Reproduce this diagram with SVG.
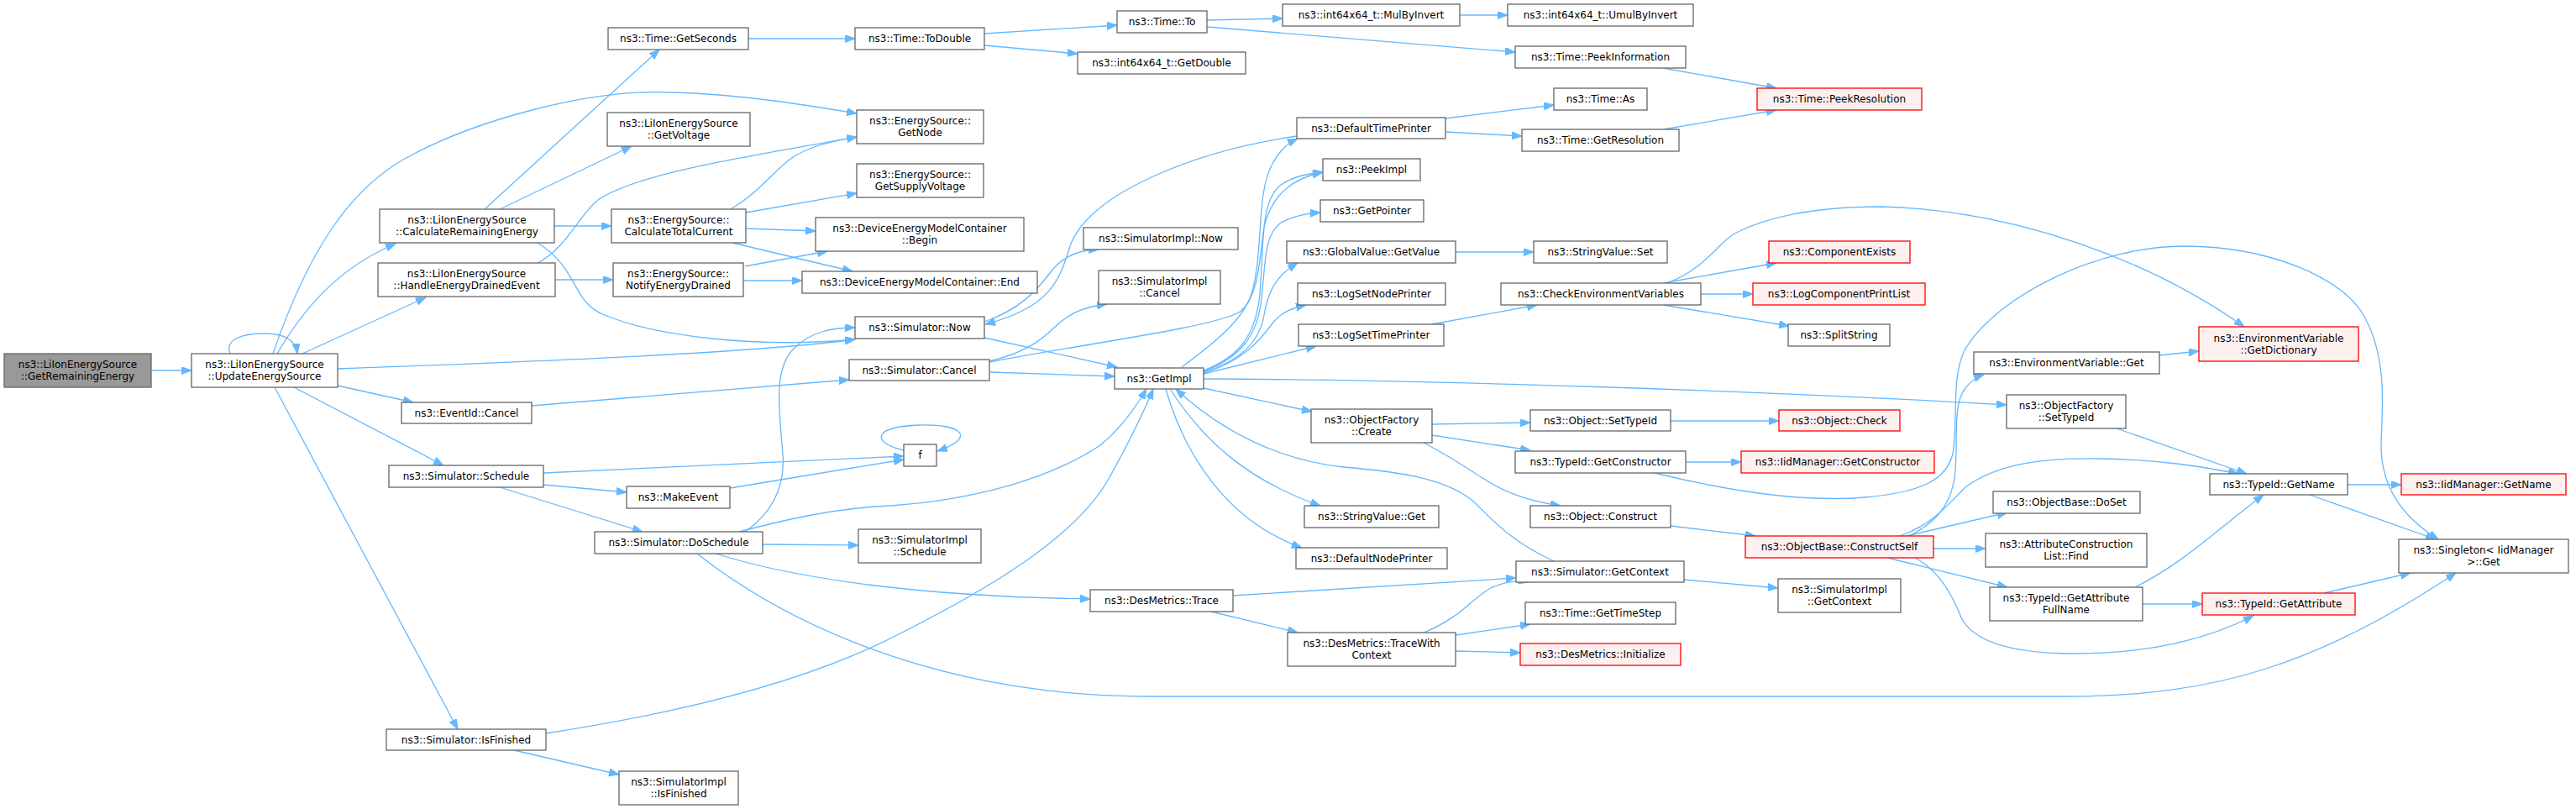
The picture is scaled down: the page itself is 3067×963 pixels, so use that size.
<svg xmlns="http://www.w3.org/2000/svg" width="3067" height="963" viewBox="0 0 3067 963">
<style>
.n rect{fill:#ffffff;stroke:#666666;stroke-width:1.3}
.r rect{fill:#fff0f0;stroke:#ff0000;stroke-width:1.3}
.g rect{fill:#999999;stroke:#666666;stroke-width:1.3}
text{font-family:"DejaVu Sans","Liberation Sans",sans-serif;font-size:12px;text-anchor:middle;fill:#000000}
#edges path{fill:none;stroke:#63b8ff;stroke-width:1.3;marker-end:url(#a)}
</style>
<defs>
<marker id="a" markerUnits="userSpaceOnUse" markerWidth="13" markerHeight="10" refX="12" refY="4.5" orient="auto"><path d="M0,0 L12,4.5 L0,9 z" fill="#63b8ff" stroke="#63b8ff" stroke-width="1"/></marker>
</defs>
<rect width="3067" height="963" fill="#ffffff"/>
<g id="edges">
<path d="M180,441 L228,441"/>
<path d="M274,421 C268,405 285,397 315,397 C340,397 352,405 354,421"/>
<path d="M330,421 C360,370 400,320 471,290"/>
<path d="M360,421 L507,354"/>
<path d="M325,421 C370,290 420,225 480,190 C560,145 700,105 800,110 C880,112 960,125 1020,135"/>
<path d="M402,439 C650,430 900,420 1018,404"/>
<path d="M402,459 L492,479"/>
<path d="M350,461 L528,554"/>
<path d="M327,461 L545,868"/>
<path d="M577,249 L785,59"/>
<path d="M595,249 L752,174"/>
<path d="M660,269 L728,269"/>
<path d="M640,289 C690,320 680,360 720,375 C780,400 900,415 1018,404"/>
<path d="M640,313 C675,295 690,255 712,238 C760,205 900,185 1020,163"/>
<path d="M661,333 L730,333"/>
<path d="M870,249 C905,228 920,205 940,190 C960,175 990,168 1020,163"/>
<path d="M888,253 L1020,230"/>
<path d="M888,272 L971,275"/>
<path d="M872,289 L1015,323"/>
<path d="M887,317 L985,299"/>
<path d="M885,334 L955,334"/>
<path d="M891,46 L1018,46"/>
<path d="M1172,40 L1330,30"/>
<path d="M1172,54 L1283,64"/>
<path d="M1437,24 L1527,22"/>
<path d="M1437,32 L1804,62"/>
<path d="M1738,18 L1795,18"/>
<path d="M1980,81 L2115,105"/>
<path d="M1721,141 L1850,125"/>
<path d="M1721,157 L1812,162"/>
<path d="M1980,154 L2115,131"/>
<path d="M1544,162 C1420,180 1300,230 1275,290 C1262,330 1255,365 1173,386"/>
<path d="M1172,383 C1215,368 1235,345 1250,325 C1265,305 1285,297 1308,297"/>
<path d="M1172,402 L1330,437"/>
<path d="M1178,430 C1220,420 1240,405 1255,390 C1275,370 1295,365 1318,362"/>
<path d="M1179,443 L1327,448"/>
<path d="M1178,431 C1300,408 1440,390 1475,372 C1500,355 1500,300 1505,270 C1515,230 1540,212 1575,205"/>
<path d="M633,483 L1011,452"/>
<path d="M647,563 L1076,543"/>
<path d="M647,577 L746,586"/>
<path d="M595,580 L765,633"/>
<path d="M869,581 L1076,547"/>
<path d="M1076,536 C1040,528 1035,508 1095,506 C1150,505 1160,522 1116,537"/>
<path d="M887,633 C920,610 935,580 932,540 C928,490 920,440 945,415 C965,395 990,390 1018,390"/>
<path d="M880,633 C930,620 990,605 1060,602 C1160,595 1250,570 1310,530 C1335,510 1352,485 1365,463"/>
<path d="M907,648 L1022,649"/>
<path d="M852,659 C950,690 1100,710 1298,713"/>
<path d="M830,659 C920,730 1100,829 1370,829 L2460,829 C2640,829 2760,790 2924,682"/>
<path d="M650,873 C800,850 950,815 1060,760 C1180,700 1280,640 1320,570 C1345,525 1362,490 1373,463"/>
<path d="M612,893 L737,922"/>
<path d="M1468,709 L1805,688"/>
<path d="M1442,728 L1545,753"/>
<path d="M1695,753 C1740,735 1755,710 1775,700 C1790,693 1805,690 1820,693"/>
<path d="M1733,756 L1822,743"/>
<path d="M1733,775 L1810,777"/>
<path d="M2005,690 L2117,700"/>
<path d="M1850,668 C1790,640 1770,610 1752,595 C1720,570 1670,562 1600,556 C1520,548 1450,510 1400,463"/>
<path d="M1407,437 C1450,405 1480,380 1490,350 C1505,300 1495,230 1515,195 C1522,182 1530,172 1545,165"/>
<path d="M1433,441 C1475,425 1495,400 1500,350 C1505,290 1500,240 1525,220 C1540,210 1555,207 1575,205"/>
<path d="M1433,442 C1478,425 1497,400 1502,355 C1507,310 1505,280 1525,265 C1540,257 1555,254 1572,253"/>
<path d="M1433,443 C1480,428 1500,405 1505,375 C1510,345 1520,328 1545,313"/>
<path d="M1433,444 C1480,430 1500,405 1515,385 C1525,372 1537,367 1555,363"/>
<path d="M1433,445 L1567,412"/>
<path d="M1433,451 C1700,452 2100,465 2389,482"/>
<path d="M1433,462 L1562,490"/>
<path d="M1393,463 C1430,520 1480,570 1572,602"/>
<path d="M1388,463 C1410,540 1460,620 1550,652"/>
<path d="M1705,505 L1822,503"/>
<path d="M1705,518 L1822,536"/>
<path d="M1695,527 C1730,545 1750,560 1775,575 C1800,590 1830,598 1858,602"/>
<path d="M1989,501 L2118,501"/>
<path d="M2007,550 L2073,550"/>
<path d="M1970,563 C2060,585 2150,598 2220,592 C2290,586 2318,570 2325,540 C2332,500 2322,450 2340,415 C2380,350 2500,293 2600,293 C2700,293 2790,330 2815,377 C2845,430 2835,500 2835,530 C2835,580 2860,615 2903,642"/>
<path d="M1989,626 L2090,638"/>
<path d="M2273,638 C2305,622 2325,600 2328,560 C2331,520 2325,480 2340,462 C2347,453 2353,449 2362,446"/>
<path d="M2262,638 C2300,625 2320,600 2340,580 C2380,550 2440,545 2500,546 C2570,547 2620,555 2665,564"/>
<path d="M2270,638 L2390,610"/>
<path d="M2302,653 L2364,653"/>
<path d="M2247,664 L2390,699"/>
<path d="M2280,664 C2310,680 2325,710 2335,735 C2350,765 2400,778 2470,778 C2560,778 2630,760 2683,733"/>
<path d="M2520,510 L2675,564"/>
<path d="M2795,577 L2859,577"/>
<path d="M2750,589 L2900,642"/>
<path d="M2542,699 C2600,670 2640,630 2695,589"/>
<path d="M2551,719 L2622,719"/>
<path d="M2767,706 L2870,682"/>
<path d="M2571,423 L2618,418"/>
<path d="M1980,337 L2115,313"/>
<path d="M2025,350 L2087,350"/>
<path d="M1980,363 L2130,388"/>
<path d="M1985,337 C2030,320 2045,290 2065,278 C2110,255 2170,246 2240,246 C2400,250 2560,310 2672,389"/>
<path d="M1733,300 L1826,300"/>
<path d="M1705,386 L1830,363"/>
</g>
<g id="n_root" class="g"><rect x="5" y="421" width="175" height="40"/><text x="92.5" y="438">ns3::LiIonEnergySource</text><text x="92.5" y="452">::GetRemainingEnergy</text></g>
<g id="n_update" class="n"><rect x="228" y="421" width="174" height="40"/><text x="315" y="438">ns3::LiIonEnergySource</text><text x="315" y="452">::UpdateEnergySource</text></g>
<g id="n_calcRem" class="n"><rect x="452" y="249" width="208" height="40"/><text x="556" y="266">ns3::LiIonEnergySource</text><text x="556" y="280">::CalculateRemainingEnergy</text></g>
<g id="n_handle" class="n"><rect x="450" y="313" width="211" height="40"/><text x="555.5" y="330">ns3::LiIonEnergySource</text><text x="555.5" y="344">::HandleEnergyDrainedEvent</text></g>
<g id="n_eventCancel" class="n"><rect x="478" y="479" width="155" height="25"/><text x="555.5" y="495.5">ns3::EventId::Cancel</text></g>
<g id="n_getSeconds" class="n"><rect x="724" y="33" width="167" height="26"/><text x="807.5" y="50">ns3::Time::GetSeconds</text></g>
<g id="n_getVoltage" class="n"><rect x="723" y="134" width="170" height="40"/><text x="808" y="151">ns3::LiIonEnergySource</text><text x="808" y="165">::GetVoltage</text></g>
<g id="n_calcTotal" class="n"><rect x="728" y="249" width="160" height="40"/><text x="808" y="266">ns3::EnergySource::</text><text x="808" y="280">CalculateTotalCurrent</text></g>
<g id="n_notify" class="n"><rect x="730" y="313" width="155" height="40"/><text x="807.5" y="330">ns3::EnergySource::</text><text x="807.5" y="344">NotifyEnergyDrained</text></g>
<g id="n_toDouble" class="n"><rect x="1018" y="33" width="154" height="26"/><text x="1095" y="50">ns3::Time::ToDouble</text></g>
<g id="n_to" class="n"><rect x="1330" y="13" width="107" height="26"/><text x="1383.5" y="30">ns3::Time::To</text></g>
<g id="n_getDouble" class="n"><rect x="1283" y="62" width="200" height="26"/><text x="1383" y="79">ns3::int64x64_t::GetDouble</text></g>
<g id="n_getNode" class="n"><rect x="1020" y="131" width="151" height="40"/><text x="1095.5" y="148">ns3::EnergySource::</text><text x="1095.5" y="162">GetNode</text></g>
<g id="n_supply" class="n"><rect x="1020" y="195" width="151" height="40"/><text x="1095.5" y="212">ns3::EnergySource::</text><text x="1095.5" y="226">GetSupplyVoltage</text></g>
<g id="n_begin" class="n"><rect x="971" y="259" width="248" height="40"/><text x="1095" y="276">ns3::DeviceEnergyModelContainer</text><text x="1095" y="290">::Begin</text></g>
<g id="n_end" class="n"><rect x="955" y="323" width="280" height="26"/><text x="1095" y="340">ns3::DeviceEnergyModelContainer::End</text></g>
<g id="n_implNow" class="n"><rect x="1290" y="271" width="184" height="26"/><text x="1382" y="288">ns3::SimulatorImpl::Now</text></g>
<g id="n_implCancel" class="n"><rect x="1308" y="322" width="145" height="40"/><text x="1380.5" y="339">ns3::SimulatorImpl</text><text x="1380.5" y="353">::Cancel</text></g>
<g id="n_simNow" class="n"><rect x="1018" y="377" width="154" height="26"/><text x="1095" y="394">ns3::Simulator::Now</text></g>
<g id="n_simCancel" class="n"><rect x="1011" y="428" width="167" height="25"/><text x="1094.5" y="444.5">ns3::Simulator::Cancel</text></g>
<g id="n_getImpl" class="n"><rect x="1327" y="438" width="106" height="25"/><text x="1380" y="454.5">ns3::GetImpl</text></g>
<g id="n_mul" class="n"><rect x="1527" y="5" width="211" height="26"/><text x="1632.5" y="22">ns3::int64x64_t::MulByInvert</text></g>
<g id="n_umul" class="n"><rect x="1795" y="5" width="221" height="26"/><text x="1905.5" y="22">ns3::int64x64_t::UmulByInvert</text></g>
<g id="n_peekInfo" class="n"><rect x="1804" y="55" width="203" height="26"/><text x="1905.5" y="72">ns3::Time::PeekInformation</text></g>
<g id="n_peekRes" class="r"><rect x="2092" y="105" width="196" height="26"/><text x="2190" y="122">ns3::Time::PeekResolution</text></g>
<g id="n_as" class="n"><rect x="1850" y="105" width="111" height="26"/><text x="1905.5" y="122">ns3::Time::As</text></g>
<g id="n_dtp" class="n"><rect x="1544" y="140" width="177" height="25"/><text x="1632.5" y="156.5">ns3::DefaultTimePrinter</text></g>
<g id="n_getRes" class="n"><rect x="1812" y="154" width="187" height="26"/><text x="1905.5" y="171">ns3::Time::GetResolution</text></g>
<g id="n_peekImpl" class="n"><rect x="1575" y="189" width="116" height="26"/><text x="1633" y="206">ns3::PeekImpl</text></g>
<g id="n_getPointer" class="n"><rect x="1572" y="238" width="123" height="26"/><text x="1633.5" y="255">ns3::GetPointer</text></g>
<g id="n_getValue" class="n"><rect x="1532" y="287" width="201" height="26"/><text x="1632.5" y="304">ns3::GlobalValue::GetValue</text></g>
<g id="n_svSet" class="n"><rect x="1826" y="287" width="159" height="26"/><text x="1905.5" y="304">ns3::StringValue::Set</text></g>
<g id="n_compExists" class="r"><rect x="2106" y="287" width="168" height="26"/><text x="2190" y="304">ns3::ComponentExists</text></g>
<g id="n_logNode" class="n"><rect x="1545" y="337" width="176" height="26"/><text x="1633" y="354">ns3::LogSetNodePrinter</text></g>
<g id="n_checkEnv" class="n"><rect x="1787" y="337" width="238" height="26"/><text x="1906" y="354">ns3::CheckEnvironmentVariables</text></g>
<g id="n_logPrint" class="r"><rect x="2087" y="337" width="205" height="26"/><text x="2189.5" y="354">ns3::LogComponentPrintList</text></g>
<g id="n_logTime" class="n"><rect x="1546" y="386" width="173" height="26"/><text x="1632.5" y="403">ns3::LogSetTimePrinter</text></g>
<g id="n_split" class="n"><rect x="2129" y="386" width="121" height="26"/><text x="2189.5" y="403">ns3::SplitString</text></g>
<g id="n_getDict" class="r"><rect x="2618" y="389" width="190" height="41"/><text x="2713" y="406.5">ns3::EnvironmentVariable</text><text x="2713" y="420.5">::GetDictionary</text></g>
<g id="n_envGet" class="n"><rect x="2350" y="419" width="221" height="26"/><text x="2460.5" y="436">ns3::EnvironmentVariable::Get</text></g>
<g id="n_ofSetTypeId" class="n"><rect x="2389" y="470" width="142" height="40"/><text x="2460" y="487">ns3::ObjectFactory</text><text x="2460" y="501">::SetTypeId</text></g>
<g id="n_schedule" class="n"><rect x="463" y="554" width="184" height="26"/><text x="555" y="571">ns3::Simulator::Schedule</text></g>
<g id="n_makeEvent" class="n"><rect x="746" y="579" width="123" height="26"/><text x="807.5" y="596">ns3::MakeEvent</text></g>
<g id="n_doSchedule" class="n"><rect x="708" y="633" width="200" height="26"/><text x="808" y="650">ns3::Simulator::DoSchedule</text></g>
<g id="n_isFinished" class="n"><rect x="460" y="868" width="190" height="25"/><text x="555" y="884.5">ns3::Simulator::IsFinished</text></g>
<g id="n_implIsFinished" class="n"><rect x="737" y="918" width="142" height="40"/><text x="808" y="935">ns3::SimulatorImpl</text><text x="808" y="949">::IsFinished</text></g>
<g id="n_f" class="n"><rect x="1076" y="529" width="39" height="26"/><text x="1095.5" y="546">f</text></g>
<g id="n_implSchedule" class="n"><rect x="1022" y="630" width="146" height="40"/><text x="1095" y="647">ns3::SimulatorImpl</text><text x="1095" y="661">::Schedule</text></g>
<g id="n_trace" class="n"><rect x="1298" y="702" width="170" height="26"/><text x="1383" y="719">ns3::DesMetrics::Trace</text></g>
<g id="n_create" class="n"><rect x="1561" y="487" width="144" height="40"/><text x="1633" y="504">ns3::ObjectFactory</text><text x="1633" y="518">::Create</text></g>
<g id="n_objSetTypeId" class="n"><rect x="1822" y="488" width="167" height="25"/><text x="1905.5" y="504.5">ns3::Object::SetTypeId</text></g>
<g id="n_check" class="r"><rect x="2118" y="488" width="144" height="25"/><text x="2190" y="504.5">ns3::Object::Check</text></g>
<g id="n_getCtor" class="n"><rect x="1804" y="537" width="203" height="26"/><text x="1905.5" y="554">ns3::TypeId::GetConstructor</text></g>
<g id="n_iidCtor" class="r"><rect x="2073" y="537" width="230" height="26"/><text x="2188" y="554">ns3::IidManager::GetConstructor</text></g>
<g id="n_svGet" class="n"><rect x="1553" y="602" width="160" height="26"/><text x="1633" y="619">ns3::StringValue::Get</text></g>
<g id="n_construct" class="n"><rect x="1822" y="602" width="167" height="26"/><text x="1905.5" y="619">ns3::Object::Construct</text></g>
<g id="n_constructSelf" class="r"><rect x="2078" y="638" width="224" height="26"/><text x="2190" y="655">ns3::ObjectBase::ConstructSelf</text></g>
<g id="n_dnp" class="n"><rect x="1543" y="652" width="180" height="25"/><text x="1633" y="668.5">ns3::DefaultNodePrinter</text></g>
<g id="n_getCtx" class="n"><rect x="1805" y="668" width="200" height="25"/><text x="1905" y="684.5">ns3::Simulator::GetContext</text></g>
<g id="n_implCtx" class="n"><rect x="2117" y="689" width="146" height="40"/><text x="2190" y="706">ns3::SimulatorImpl</text><text x="2190" y="720">::GetContext</text></g>
<g id="n_timeStep" class="n"><rect x="1816" y="717" width="179" height="26"/><text x="1905.5" y="734">ns3::Time::GetTimeStep</text></g>
<g id="n_traceCtx" class="n"><rect x="1533" y="753" width="200" height="40"/><text x="1633" y="770">ns3::DesMetrics::TraceWith</text><text x="1633" y="784">Context</text></g>
<g id="n_init" class="r"><rect x="1810" y="766" width="191" height="26"/><text x="1905.5" y="783">ns3::DesMetrics::Initialize</text></g>
<g id="n_getName" class="n"><rect x="2631" y="564" width="164" height="25"/><text x="2713" y="580.5">ns3::TypeId::GetName</text></g>
<g id="n_iidName" class="r"><rect x="2859" y="564" width="196" height="25"/><text x="2957" y="580.5">ns3::IidManager::GetName</text></g>
<g id="n_doSet" class="n"><rect x="2373" y="585" width="175" height="26"/><text x="2460.5" y="602">ns3::ObjectBase::DoSet</text></g>
<g id="n_find" class="n"><rect x="2364" y="635" width="192" height="40"/><text x="2460" y="652">ns3::AttributeConstruction</text><text x="2460" y="666">List::Find</text></g>
<g id="n_singleton" class="n"><rect x="2856" y="642" width="202" height="40"/><text x="2957" y="659">ns3::Singleton&lt; IidManager</text><text x="2957" y="673">&gt;::Get</text></g>
<g id="n_fullName" class="n"><rect x="2369" y="699" width="182" height="40"/><text x="2460" y="716">ns3::TypeId::GetAttribute</text><text x="2460" y="730">FullName</text></g>
<g id="n_getAttr" class="r"><rect x="2622" y="706" width="182" height="26"/><text x="2713" y="723">ns3::TypeId::GetAttribute</text></g>
</svg>
